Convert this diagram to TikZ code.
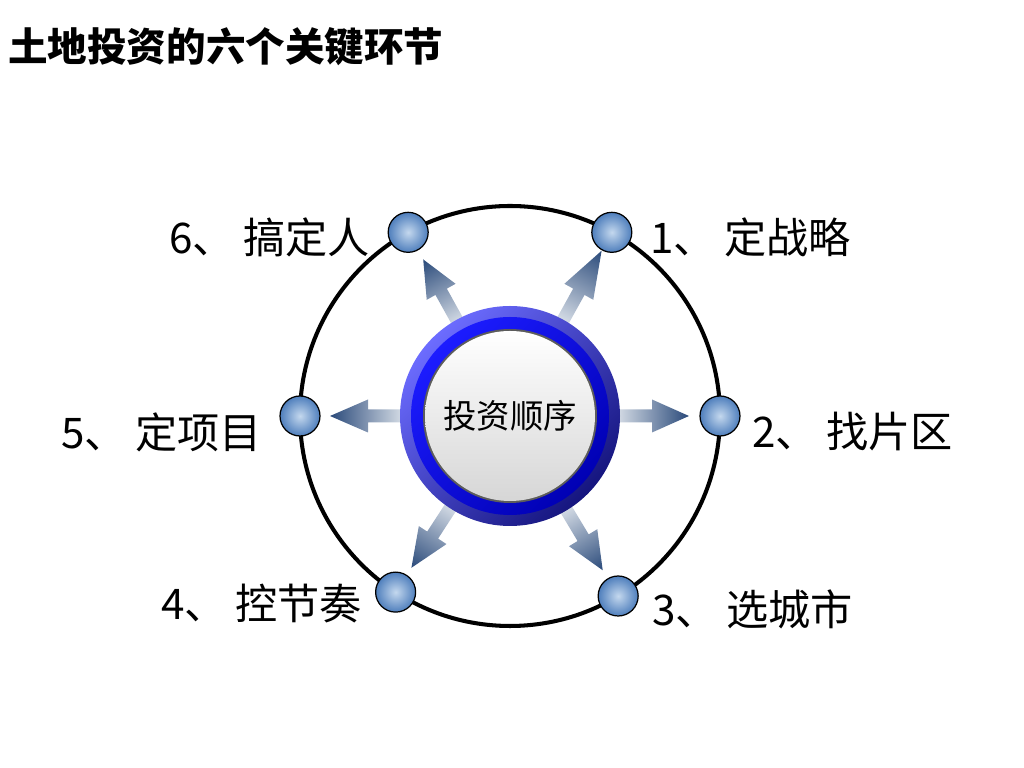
\documentclass[tikz,border=0pt]{standalone}
\usepackage{fontspec}
\usepackage{tikz}
\usetikzlibrary{positioning}
\newfontfamily\cjk{Noto Sans CJK SC}[BoldFont={Noto Sans CJK SC Black}]
\definecolor{ringlight}{HTML}{6C6CFF}
\definecolor{ringdark}{HTML}{15157E}
\definecolor{bandhi}{HTML}{1C1CFF}
\definecolor{bandlow}{HTML}{0000B4}
\definecolor{discrim}{HTML}{5C5C5C}
\definecolor{ballhi}{HTML}{C4D8EE}
\definecolor{balllow}{HTML}{4E7EBC}
\definecolor{arrowlight}{HTML}{F2F5F8}
\definecolor{arrowdark}{HTML}{2A4A7A}
\tikzstyle{ball} = [circle, minimum size=0.8cm, inner sep=0pt, draw=black, line width=0.7pt, inner color=ballhi, outer color=balllow]
\tikzstyle{item} = [font=\cjk\fontsize{24}{28}\selectfont, inner sep=0pt]
\tikzstyle{hubtext} = [font=\cjk\fontsize{19}{22}\selectfont]
\newcommand{\hubarrow}[2]{%
  \begin{scope}[transform canvas={rotate around={#1:(c)}}, shift={(c)}]
    \shade[left color=arrowlight, right color=arrowdark] (1.9,-0.13) -- (2.84,-0.13) -- (2.84,-0.33) -- (#2,0) -- (2.84,0.33) -- (2.84,0.13) -- (1.9,0.13) -- cycle;
  \end{scope}}

\begin{document}
\begin{tikzpicture}
\useasboundingbox (0,0) rectangle (20.48,15.36);

% Title
\node[anchor=west, font=\cjk\bfseries\fontsize{22.5}{26}\selectfont, inner sep=0pt] (title) at (0.16,14.42) {土地投资的六个关键环节};

% Outer circle
\coordinate (c) at (10.2,7.04);
\draw[line width=2.3pt] (c) circle (4.2);

% Arrows
\hubarrow{61}{3.78}
\hubarrow{0}{3.58}
\hubarrow{-59}{3.6}
\hubarrow{-123}{3.62}
\hubarrow{180}{3.6}
\hubarrow{119}{3.58}

% Hub
\node[circle, minimum size=4.4cm, inner sep=0pt, top color=ringlight, bottom color=ringdark, shading angle=45] (hubring) at (c) {};
\node[circle, minimum size=3.96cm, inner sep=0pt, top color=bandhi, bottom color=bandlow, shading angle=45] (hubband) at (c) {};
\node[circle, minimum size=3.48cm, inner sep=0pt, fill=discrim] (hubrim) at (c) {};
\node[circle, minimum size=3.4cm, inner sep=0pt, top color=white, bottom color=black!16] (hub) at (c) {};
\node[hubtext] (hublabel) at (c) {投资顺序};

% Balls
\node[ball] (b1) at ([shift={(61:4.2)}]c) {};
\node[ball] (b2) at ([shift={(0:4.2)}]c) {};
\node[ball] (b3) at ([shift={(-59:4.2)}]c) {};
\node[ball] (b4) at ([shift={(-123:4.2)}]c) {};
\node[ball] (b5) at ([shift={(180:4.2)}]c) {};
\node[ball] (b6) at ([shift={(119:4.2)}]c) {};

% Labels
\node[item, anchor=west] (l1) at (13.0,10.62) {1、\hspace{0.2em}定战略};
\node[item, anchor=west] (l2) at (15.04,6.72) {2、\hspace{0.2em}找片区};
\node[item, anchor=west] (l3) at (13.04,3.18) {3、\hspace{0.2em}选城市};
\node[item, anchor=east] (l4) at (7.24,3.28) {4、\hspace{0.2em}控节奏};
\node[item, anchor=east] (l5) at (5.24,6.72) {5、\hspace{0.2em}定项目};
\node[item, anchor=east] (l6) at (7.4,10.62) {6、\hspace{0.2em}搞定人};

\end{tikzpicture}
\end{document}
